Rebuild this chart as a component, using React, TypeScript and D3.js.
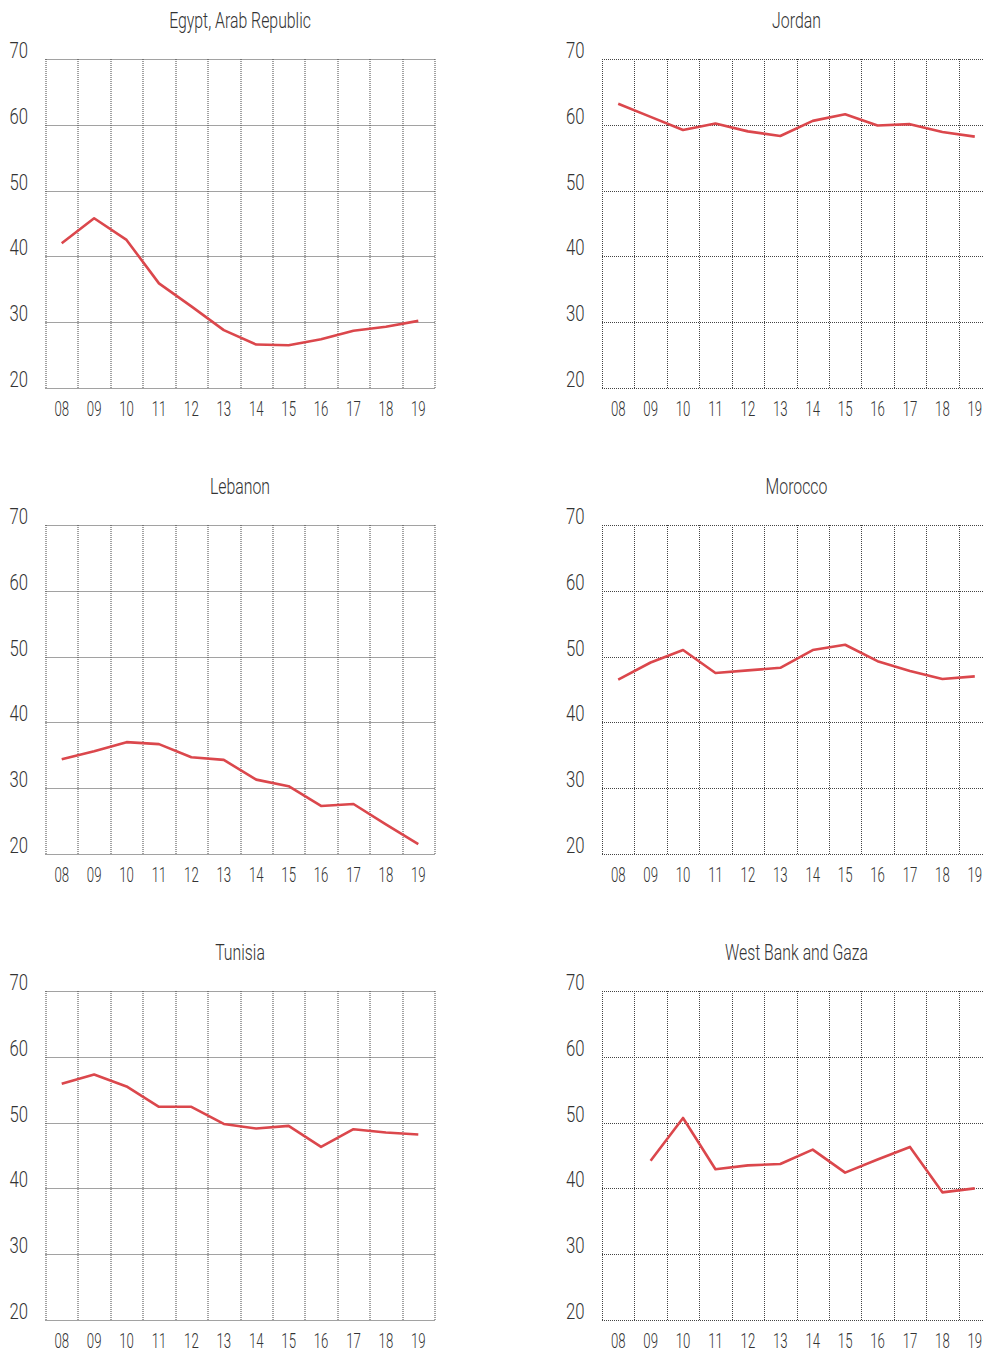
import React from "react";
import * as d3 from "d3";

const years = ["08", "09", "10", "11", "12", "13", "14", "15", "16", "17", "18", "19"];
const yTicks = [20, 30, 40, 50, 60, 70];

const egypt = [42.0, 45.8, 42.5, 35.9, 32.4, 28.8, 26.6, 26.5, 27.4, 28.7, 29.3, 30.2];
const jordan = [63.2, 61.2, 59.2, 60.2, 59.0, 58.3, 60.6, 61.6, 59.9, 60.1, 58.9, 58.2];
const lebanon = [34.4, 35.6, 37.0, 36.7, 34.7, 34.3, 31.3, 30.3, 27.3, 27.6, 24.5, 21.5];
const morocco = [46.5, 49.1, 51.0, 47.5, 47.9, 48.3, 51.0, 51.8, 49.3, 47.8, 46.6, 47.0];
const tunisia = [55.9, 57.3, 55.5, 52.4, 52.4, 49.8, 49.1, 49.5, 46.3, 49.0, 48.5, 48.2];
const westBank: (number | null)[] = [null, 44.2, 50.7, 42.9, 43.5, 43.7, 45.9, 42.4, 44.4, 46.3, 39.4, 40.0];

const panels = [
  { title: "Egypt, Arab Republic", values: egypt },
  { title: "Jordan", values: jordan },
  { title: "Lebanon", values: lebanon },
  { title: "Morocco", values: morocco },
  { title: "Tunisia", values: tunisia },
  { title: "West Bank and Gaza", values: westBank },
];

const W = 984;
const H = 1353;
const colLeft = [45.5, 602];
const rowTop = [59, 525, 991];
const plotW = 389;
const plotH = 329;
const FONT = "Roboto, 'Liberation Sans', Arial, sans-serif";
const TEXT = "#333333";
const GRID = "#444444";
const RED = "#db474c";

function CText(props: {
  x: number; y: number; size: number; sx: number; anchor?: string; children: React.ReactNode;
}) {
  const { x, y, size, sx, anchor = "middle", children } = props;
  return (
    <text
      transform={`translate(${x},${y}) scale(${sx},1)`}
      fontSize={size}
      fontFamily={FONT}
      fontWeight={300}
      fill={TEXT}
      textAnchor={anchor}
    >
      {children}
    </text>
  );
}

function Panel({ title, values, left, top }: { title: string; values: (number | null)[]; left: number; top: number }) {
  const x = d3.scaleBand<string>().domain(years).range([0, plotW]).padding(0);
  const y = d3.scaleLinear().domain([20, 70]).range([plotH, 0]);
  const line = d3
    .line<number | null>()
    .defined((d) => d != null)
    .x((_, i) => (x(years[i]) as number) + x.bandwidth() / 2)
    .y((d) => y(d as number));
  const bounds = d3.range(years.length + 1).map((i) => i * x.bandwidth());
  return (
    <g transform={`translate(${left},${top})`}>
      <CText x={plotW / 2} y={-31} size={22} sx={0.72}>{title}</CText>
      {yTicks.map((t) => (
        <line
          key={"h" + t}
          x1={0}
          x2={plotW}
          y1={Math.round(y(t)) + 0.5}
          y2={Math.round(y(t)) + 0.5}
          stroke={GRID}
          strokeWidth={1}
          strokeDasharray="1,1"
        />
      ))}
      {bounds.map((b, i) => (
        <line
          key={"v" + i}
          x1={Math.round(b) + 0.5}
          x2={Math.round(b) + 0.5}
          y1={0}
          y2={plotH}
          stroke={GRID}
          strokeWidth={1}
          strokeDasharray="1,1"
        />
      ))}
      {yTicks.map((t) => (
        <CText key={"yl" + t} x={-36} y={y(t) - 1} size={22} sx={0.76} anchor="start">
          {String(t)}
        </CText>
      ))}
      {years.map((yr) => (
        <CText key={"xl" + yr} x={(x(yr) as number) + x.bandwidth() / 2} y={plotH + 28} size={20} sx={0.66}>
          {yr}
        </CText>
      ))}
      <path d={line(values) || ""} fill="none" stroke={RED} strokeWidth={2.6} strokeLinejoin="round" />
    </g>
  );
}

export default function App() {
  return (
    <svg
      width={W}
      height={H}
      viewBox={`0 0 ${W} ${H}`}
      style={{ position: "absolute", left: 0, top: 0, background: "#fff" }}
    >
      <rect x={0} y={0} width={W} height={H} fill="#fff" />
      {panels.map((p, i) => (
        <Panel key={p.title} title={p.title} values={p.values} left={colLeft[i % 2]} top={rowTop[Math.floor(i / 2)]} />
      ))}
    </svg>
  );
}
